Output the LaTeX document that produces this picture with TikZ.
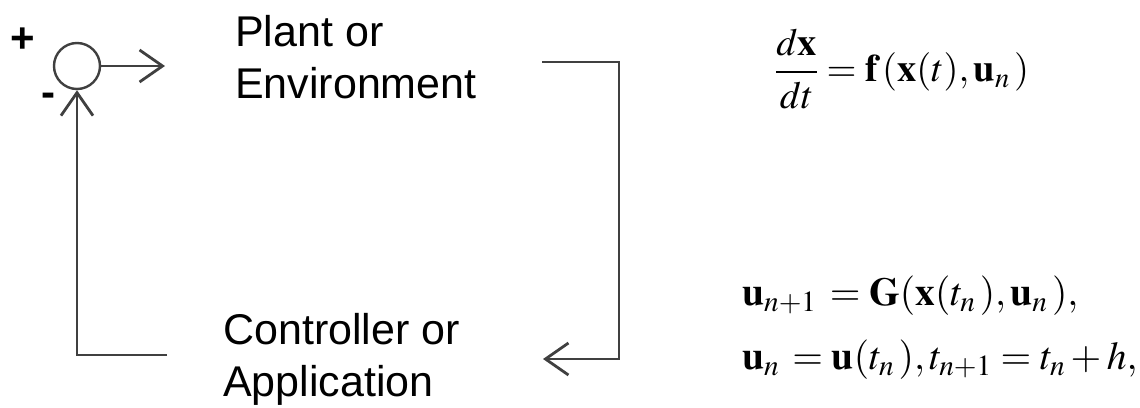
\documentclass[tikz,border=0pt]{standalone}
\usepackage{amsmath}
\usepackage{mathptmx}
\usepackage[no-math]{fontspec}
\newfontfamily\labelfont{Liberation Sans}
\usepackage{tikz}
\usetikzlibrary{arrows.meta, positioning}
\definecolor{linegray}{RGB}{64, 64, 64}

\begin{document}
\begin{tikzpicture}[x=1pt, y=-1pt,
        wire/.style={line width=2.8pt, linegray},
        flow/.style={wire, -{Straight Barb[length=23pt, width=32pt]}},
        blocklabel/.style={font=\labelfont\fontsize{43}{52}\selectfont, align=left, inner sep=0pt, anchor=north west},
        signlabel/.style={font=\labelfont\bfseries\fontsize{42}{42}\selectfont, inner sep=0pt},
        eqn/.style={font=\fontsize{39.5}{64}\selectfont, inner sep=0pt}]
        \useasboundingbox (0,0) rectangle (1140,407);

        % Summing junction
        \node[circle, draw=linegray, line width=2.4pt, minimum size=46pt, inner sep=0pt] (sum) at (77,66) {};
        \node[signlabel] (plus) at (23,40) {+};
        \node[signlabel] (minus) at (48,100) {-};

        % Blocks
        \node[blocklabel] (plant) at (235,15) {Plant or\\Environment};
        \node[blocklabel] (ctrl) at (223,313) {Controller or\\Application};

        % Loop
        \coordinate (plantin) at (165,66);
        \coordinate (plantout) at (542,62);
        \coordinate (ctrlin) at (543,359);
        \coordinate (ctrlout) at (167,355);
        \draw[flow] (sum.east) -- (plantin);
        \draw[flow] (plantout) -- ++(77,0) |- (ctrlin);
        \draw[flow] (ctrlout) -| (sum.south);

        % Equations
        \node[eqn, font=\fontsize{38.5}{50}\selectfont, anchor=west] (stateeq) at (775,69) {$\dfrac{d\mathbf{x}}{dt} = \mathbf{f}\,(\mathbf{x}(t),\mathbf{u}_n\,)$};
        \node[eqn, align=left, anchor=north west] (ctrleq) at (742,276) {$\mathbf{u}_{n+1}\, = \mathbf{G}(\mathbf{x}(t_n\,),\mathbf{u}_n\,),$\\$\mathbf{u}_n\, = \mathbf{u}(t_n\,),t_{n+1} = t_n + h,$};

    \end{tikzpicture}
\end{document}
